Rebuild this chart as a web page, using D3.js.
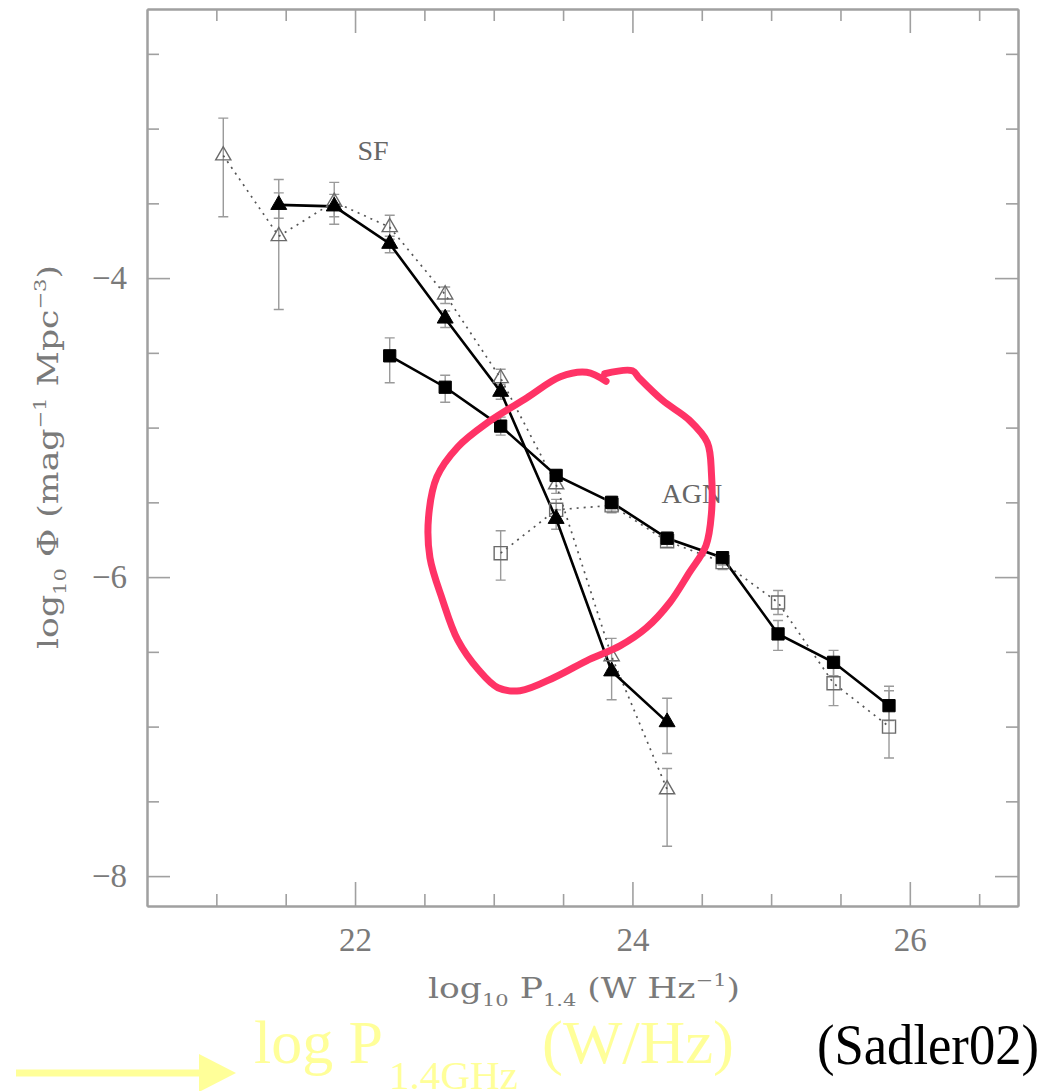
<!DOCTYPE html>
<html>
<head>
<meta charset="utf-8">
<script src="https://cdn.jsdelivr.net/npm/d3@7"></script>
<style>
    html, body { margin: 0; padding: 0; background: #fff; }
    svg { display: block; }
</style>
</head>
<body>
<svg id="chart" width="1052" height="1091"></svg>
<script>
/*global d3 */
(function () {
    "use strict";

    // log10 P1.4 bin centres
    var sfFilledX = [21.45, 21.85, 22.25, 22.65, 23.05, 23.45, 23.85, 24.25];
    var sfFilledY = [-3.51, -3.52, -3.77, -4.27, -4.76, -5.61, -6.63, -6.97];
    var sfFilledHi = [-3.43, -3.44, -3.72, -4.22, -4.71, -5.55, -6.56, -6.81];
    var sfFilledLo = [-3.60, -3.59, -3.83, -4.33, -4.81, -5.68, -6.82, -7.18];

    var sfOpenX = [21.05, 21.45, 21.85, 22.25, 22.65, 23.05, 23.45, 23.85,
            24.25];
    var sfOpenY = [-3.18, -3.72, -3.49, -3.66, -4.11, -4.67, -5.38, -6.53,
            -7.42];
    var sfOpenHi = [-2.93, -3.34, -3.36, -3.58, -4.06, -4.61, -5.32, -6.41,
            -7.28];
    var sfOpenLo = [-3.59, -4.21, -3.64, -3.74, -4.17, -4.73, -5.44, -6.62,
            -7.80];

    var agnFilledX = [22.25, 22.65, 23.05, 23.45, 23.85, 24.25, 24.65, 25.05,
            25.45, 25.85];
    var agnFilledY = [-4.52, -4.73, -4.99, -5.32, -5.50, -5.74, -5.87, -6.38,
            -6.57, -6.86];
    var agnFilledHi = [-4.40, -4.65, -4.93, -5.28, -5.46, -5.70, -5.83, -6.29,
            -6.49, -6.76];
    var agnFilledLo = [-4.70, -4.83, -5.05, -5.36, -5.55, -5.78, -5.92, -6.49,
            -6.66, -6.96];

    var agnOpenX = [23.05, 23.45, 23.85, 24.25, 24.65, 25.05, 25.45, 25.85];
    var agnOpenY = [-5.84, -5.55, -5.52, -5.76, -5.90, -6.17, -6.71, -7.00];
    var agnOpenHi = [-5.69, -5.48, -5.48, -5.72, -5.85, -6.09, -6.57, -6.73];
    var agnOpenLo = [-6.02, -5.62, -5.57, -5.80, -5.95, -6.25, -6.86, -7.21];

    var xMajorTicks = [22, 24, 26];
    var xMinorTicks = [21, 21.5, 22.5, 23, 23.5, 24.5, 25, 25.5, 26.5];
    var yMajorTicks = [-4, -6, -8];
    var yMinorTicks = [-2.5, -3, -3.5, -4.5, -5, -5.5, -6.5, -7, -7.5];

    // hand drawn highlight, in data units
    var loopPoints = [
        [23.80, -4.64], [24.00, -4.62], [24.05, -4.67], [24.22, -4.82],
        [24.41, -4.95], [24.54, -5.10], [24.57, -5.31], [24.57, -5.57],
        [24.53, -5.79], [24.41, -5.97], [24.27, -6.17], [24.10, -6.34],
        [23.91, -6.46], [23.69, -6.55], [23.44, -6.67], [23.19, -6.76],
        [23.03, -6.74], [22.89, -6.62], [22.74, -6.42], [22.63, -6.15],
        [22.54, -5.87], [22.53, -5.60], [22.59, -5.33], [22.74, -5.13],
        [22.95, -4.97], [23.24, -4.80], [23.48, -4.66], [23.67, -4.63],
        [23.81, -4.69]
    ];

    var frame = {left: 147, right: 1018, top: 9, bottom: 906};
    var axisGrey = "#a0a0a0";
    var textGrey = "#7a7a7a";
    var serif = "'Liberation Serif', 'DejaVu Serif', serif";
    var wideSerif = "'DejaVu Serif', 'Liberation Serif', serif";

    var svg = d3.select("#chart");
    svg.append("rect")
        .attr("width", 1052)
        .attr("height", 1091)
        .attr("fill", "#fff");

    var x = d3.scaleLinear()
        .domain([20.5, 26.78])
        .range([frame.left, frame.right]);
    var y = d3.scaleLinear()
        .domain([-8.2, -2.2])
        .range([frame.bottom, frame.top]);

    var zip = function (xs, ys, his, los) {
        return xs.map(function (v, i) {
            return {x: v, y: ys[i], hi: his[i], lo: los[i]};
        });
    };
    var sfFilled = zip(sfFilledX, sfFilledY, sfFilledHi, sfFilledLo);
    var sfOpen = zip(sfOpenX, sfOpenY, sfOpenHi, sfOpenLo);
    var agnFilled = zip(agnFilledX, agnFilledY, agnFilledHi, agnFilledLo);
    var agnOpen = zip(agnOpenX, agnOpenY, agnOpenHi, agnOpenLo);

    // frame and inward ticks
    var addAxis = function (spec) {
        var g = svg.append("g")
            .attr("transform",
                    "translate(" + spec.left + "," + spec.top + ")")
            .call(spec.axis);
        g.select(".domain").attr("stroke", axisGrey).attr("stroke-width", 2);
        g.selectAll(".tick line")
            .attr("stroke", axisGrey)
            .attr("stroke-width", 1.6);
        g.selectAll(".tick text")
            .attr("fill", textGrey)
            .attr("font-family", serif)
            .attr("font-size", 33);
        return g;
    };
    var noLabel = function () {
        return "";
    };
    var minus = function (d) {
        return "\u2212" + Math.abs(d);
    };

    addAxis({left: 0, top: frame.bottom, axis: d3.axisBottom(x)
        .tickValues(xMajorTicks).tickSize(-24).tickPadding(22)
        .tickSizeOuter(0).tickFormat(d3.format("d"))});
    addAxis({left: 0, top: frame.bottom, axis: d3.axisBottom(x)
        .tickValues(xMinorTicks).tickSize(-12).tickSizeOuter(0)
        .tickFormat(noLabel)});
    addAxis({left: 0, top: frame.top, axis: d3.axisTop(x)
        .tickValues(xMajorTicks).tickSize(-24).tickSizeOuter(0)
        .tickFormat(noLabel)});
    addAxis({left: 0, top: frame.top, axis: d3.axisTop(x)
        .tickValues(xMinorTicks).tickSize(-12).tickSizeOuter(0)
        .tickFormat(noLabel)});
    addAxis({left: frame.left, top: 0, axis: d3.axisLeft(y)
        .tickValues(yMajorTicks).tickSize(-23).tickPadding(20)
        .tickSizeOuter(0).tickFormat(minus)});
    addAxis({left: frame.left, top: 0, axis: d3.axisLeft(y)
        .tickValues(yMinorTicks).tickSize(-12).tickSizeOuter(0)
        .tickFormat(noLabel)});
    addAxis({left: frame.right, top: 0, axis: d3.axisRight(y)
        .tickValues(yMajorTicks).tickSize(-23).tickSizeOuter(0)
        .tickFormat(noLabel)});
    addAxis({left: frame.right, top: 0, axis: d3.axisRight(y)
        .tickValues(yMinorTicks).tickSize(-12).tickSizeOuter(0)
        .tickFormat(noLabel)});

    // axis titles
    var xTitle = svg.append("text")
        .attr("x", 584)
        .attr("y", 998)
        .attr("text-anchor", "middle")
        .attr("font-family", wideSerif)
        .attr("font-size", 28)
        .attr("fill", textGrey)
        .attr("textLength", 312)
        .attr("lengthAdjust", "spacingAndGlyphs");
    xTitle.append("tspan").text("log");
    xTitle.append("tspan").attr("font-size", 17).attr("dy", 8).text("10");
    xTitle.append("tspan").attr("dy", -8).text(" P");
    xTitle.append("tspan").attr("font-size", 17).attr("dy", 8).text("1.4");
    xTitle.append("tspan").attr("dy", -8).text(" (W  Hz");
    xTitle.append("tspan").attr("font-size", 17).attr("dy", -12)
        .text("\u22121");
    xTitle.append("tspan").attr("dy", 12).text(")");

    var yTitle = svg.append("text")
        .attr("transform", "translate(58,457) rotate(-90)")
        .attr("text-anchor", "middle")
        .attr("font-family", wideSerif)
        .attr("font-size", 28)
        .attr("fill", textGrey)
        .attr("textLength", 384)
        .attr("lengthAdjust", "spacingAndGlyphs");
    yTitle.append("tspan").text("log");
    yTitle.append("tspan").attr("font-size", 17).attr("dy", 8).text("10");
    yTitle.append("tspan").attr("dy", -8).text(" \u03a6 (mag");
    yTitle.append("tspan").attr("font-size", 17).attr("dy", -12)
        .text("\u22121");
    yTitle.append("tspan").attr("dy", 12).text(" Mpc");
    yTitle.append("tspan").attr("font-size", 17).attr("dy", -12)
        .text("\u22123");
    yTitle.append("tspan").attr("dy", 12).text(")");

    // error bars
    var drawErrors = function (data) {
        var g = svg.append("g")
            .attr("stroke", "#9a9a9a")
            .attr("stroke-width", 1.4)
            .attr("fill", "none");
        g.selectAll("path.bar")
            .data(data)
            .join("path")
            .attr("class", "bar")
            .attr("d", function (d) {
                var cx = x(d.x);
                return "M" + cx + "," + y(d.hi) + "V" + y(d.lo) +
                        "M" + (cx - 5) + "," + y(d.hi) + "h10" +
                        "M" + (cx - 5) + "," + y(d.lo) + "h10";
            });
    };
    drawErrors(sfOpen);
    drawErrors(agnOpen);
    drawErrors(sfFilled);
    drawErrors(agnFilled);

    var line = d3.line()
        .x(function (d) {
            return x(d.x);
        })
        .y(function (d) {
            return y(d.y);
        });

    var dotted = function (data) {
        svg.append("path")
            .datum(data)
            .attr("fill", "none")
            .attr("stroke", "#555")
            .attr("stroke-width", 1.7)
            .attr("stroke-dasharray", "2,5")
            .attr("d", line);
    };
    var solid = function (data) {
        svg.append("path")
            .datum(data)
            .attr("fill", "none")
            .attr("stroke", "#000")
            .attr("stroke-width", 2.6)
            .attr("d", line);
    };
    dotted(sfOpen);
    dotted(agnOpen);
    solid(sfFilled);
    solid(agnFilled);

    var markers = function (data, type, size, filled) {
        svg.append("g")
            .selectAll("path")
            .data(data)
            .join("path")
            .attr("transform", function (d) {
                return "translate(" + x(d.x) + "," + y(d.y) + ")";
            })
            .attr("d", d3.symbol().type(type).size(size))
            .attr("fill", filled ? "#000" : "none")
            .attr("stroke", filled ? "#000" : "#6a6a6a")
            .attr("stroke-width", filled ? 1 : 1.4);
    };
    markers(sfOpen, d3.symbolTriangle, 100, false);
    markers(agnOpen, d3.symbolSquare, 170, false);
    markers(sfFilled, d3.symbolTriangle, 110, true);
    markers(agnFilled, d3.symbolSquare, 150, true);

    // series labels
    svg.append("text")
        .attr("x", x(22.13))
        .attr("y", y(-3.21))
        .attr("text-anchor", "middle")
        .attr("font-family", serif)
        .attr("font-size", 28)
        .attr("fill", "#666")
        .text("SF");
    svg.append("text")
        .attr("x", x(24.21))
        .attr("y", y(-5.505))
        .attr("font-family", serif)
        .attr("font-size", 28)
        .attr("fill", "#666")
        .text("AGN");

    // red highlight loop
    svg.append("path")
        .datum(loopPoints)
        .attr("fill", "none")
        .attr("stroke", "#ff3366")
        .attr("stroke-width", 7)
        .attr("stroke-linecap", "round")
        .attr("stroke-linejoin", "round")
        .attr("d", d3.line()
            .x(function (d) {
                return x(d[0]);
            })
            .y(function (d) {
                return y(d[1]);
            })
            .curve(d3.curveCatmullRom.alpha(0.5)));

    // slide caption
    var yellow = "#ffff99";
    svg.append("line")
        .attr("x1", 16)
        .attr("x2", 202)
        .attr("y1", 1073)
        .attr("y2", 1073)
        .attr("stroke", yellow)
        .attr("stroke-width", 7);
    svg.append("path")
        .attr("d", "M199,1054L236,1073L199,1092Z")
        .attr("fill", yellow);

    var tnr = "'Liberation Serif', 'Times New Roman', serif";
    svg.append("text")
        .attr("x", 254)
        .attr("y", 1063)
        .attr("font-family", tnr)
        .attr("font-size", 62)
        .attr("fill", yellow)
        .attr("textLength", 129)
        .attr("lengthAdjust", "spacingAndGlyphs")
        .text("log P");
    svg.append("text")
        .attr("x", 389)
        .attr("y", 1089)
        .attr("font-family", tnr)
        .attr("font-size", 41)
        .attr("fill", yellow)
        .attr("textLength", 129)
        .attr("lengthAdjust", "spacingAndGlyphs")
        .text("1.4GHz");
    svg.append("text")
        .attr("x", 542)
        .attr("y", 1063)
        .attr("font-family", tnr)
        .attr("font-size", 62)
        .attr("fill", yellow)
        .attr("textLength", 192)
        .attr("lengthAdjust", "spacingAndGlyphs")
        .text("(W/Hz)");
    svg.append("text")
        .attr("x", 817)
        .attr("y", 1064)
        .attr("font-family", tnr)
        .attr("font-size", 56)
        .attr("fill", "#000")
        .attr("textLength", 222)
        .attr("lengthAdjust", "spacingAndGlyphs")
        .text("(Sadler02)");
}());
</script>
</body>
</html>
